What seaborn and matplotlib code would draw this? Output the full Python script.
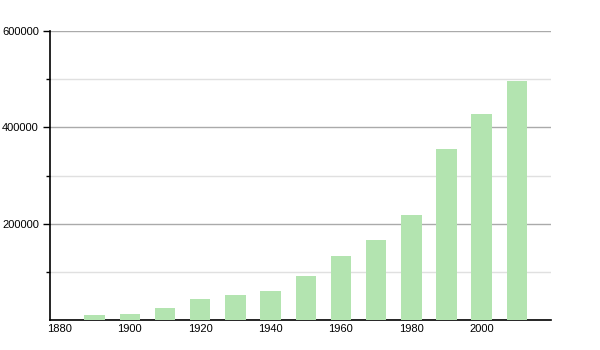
import matplotlib
matplotlib.use("Agg")
import matplotlib.pyplot as plt
import seaborn as sns
import pandas as pd
from matplotlib.ticker import FixedLocator

years = [1890, 1900, 1910, 1920, 1930, 1940, 1950, 1960, 1970, 1980, 1990, 2000, 2010]
population = [10000, 12500, 25000, 43600, 52000, 60000, 91000, 133000, 166000, 218000, 354000, 427000, 496000]
xtick_labels = [1880, 1900, 1920, 1940, 1960, 1980, 2000]
ytick_major = [200000, 400000, 600000]
ytick_minor = [100000, 300000, 500000]

df = pd.DataFrame({"year": years, "population": population})

sns.set_style("white")
plt.rcParams["font.family"] = ["Liberation Sans", "DejaVu Sans"]

fig = plt.figure(figsize=(6, 3.5), dpi=100)
ax = fig.add_axes([50/600, 30/350, 501/600, 289/350])

sns.barplot(data=df, x="year", y="population", native_scale=True, width=0.58,
            color="#b3e4b0", saturation=1, edgecolor="none", ax=ax, zorder=3)

ax.set_xlim(1877.3, 2019.7)
ax.set_ylim(0, 600000)
ax.set_xlabel("")
ax.set_ylabel("")

ax.xaxis.set_major_locator(FixedLocator(xtick_labels))
ax.set_xticklabels([str(v) for v in xtick_labels])
ax.yaxis.set_major_locator(FixedLocator(ytick_major))
ax.yaxis.set_minor_locator(FixedLocator(ytick_minor))
ax.set_yticklabels([str(v) for v in ytick_major])

ax.grid(which="major", axis="y", color="#aaaaaa", linewidth=1, zorder=0)
ax.grid(which="minor", axis="y", color="#e0e0e0", linewidth=1, zorder=0)
ax.set_axisbelow(True)

for s in ["top", "right"]:
    ax.spines[s].set_visible(False)
for s in ["left", "bottom"]:
    ax.spines[s].set_color("black")
    ax.spines[s].set_linewidth(1.2)

ax.tick_params(axis="y", which="major", length=5, width=1, color="black", labelcolor="black", labelsize=8, pad=3, left=True)
ax.tick_params(axis="y", which="minor", length=3, width=1, color="black", left=True)
ax.tick_params(axis="x", which="major", length=0, labelcolor="black", labelsize=8, pad=3)

fig.savefig("out.png", dpi=100)
